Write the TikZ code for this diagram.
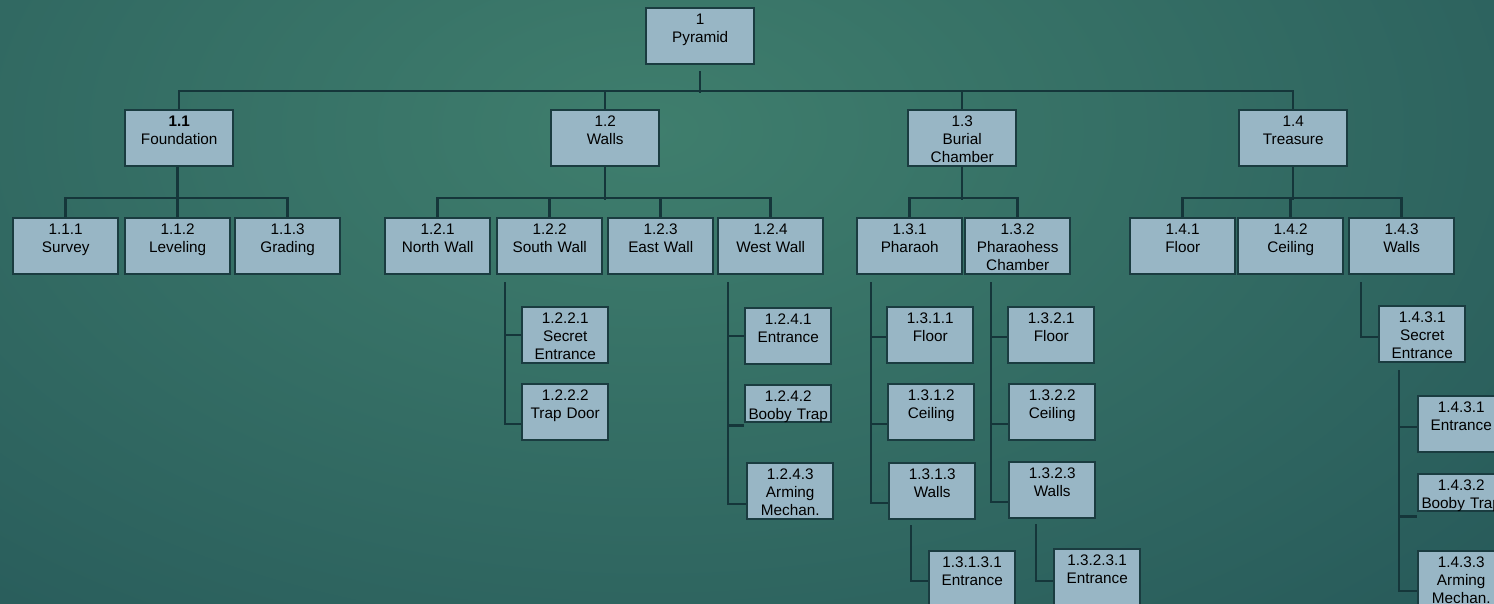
\documentclass[tikz,border=0pt]{standalone}
\usepackage{fontspec}
\setmainfont{Liberation Sans}

\definecolor{bgdark}{HTML}{1C4951}
\definecolor{bglight}{HTML}{3F7E6D}
\definecolor{boxfill}{HTML}{98B6C5}
\definecolor{boxline}{HTML}{1A3C40}
\definecolor{linkcol}{HTML}{15363A}

\tikzset{
  wbs/.style={draw=boxline, fill=boxfill, line width=2.4pt, anchor=north west,
    inner xsep=0pt, inner ysep=2pt, align=center, text=black,
    font=\fontsize{15.3}{18}\selectfont, text height=14.5pt, text depth=37.5pt},
  lvlA/.style={wbs, text width=108pt},
  lvlB/.style={wbs, text width=105pt},
  lvlC/.style={wbs, text width=86pt},
  lowbox/.style={text depth=18.5pt},
  link/.style={draw=linkcol, line width=2.5pt}
}

\begin{document}
\begin{tikzpicture}[x=1pt,y=-1pt]
  % Sfondo
  \useasboundingbox (0,0) rectangle (1494,603);
  \clip (0,0) rectangle (1494,603);
  \fill[bgdark] (0,0) rectangle (1494,603);
  \shade[inner color=bglight, outer color=bgdark] (650,130) ellipse (1700 and 1000);

  % Livello 0 e 1
  \node[lvlA] (pyr) at (645,7) {1\\Pyramid};
  \node[lvlA] (found) at (124,109) {\textbf{1.1}\\Foundation};
  \node[lvlA] (walls) at (550,109) {1.2\\Walls};
  \node[lvlA] (burial) at (907,109) {1.3\\Burial\\Chamber};
  \node[lvlA] (treas) at (1238,109) {1.4\\Treasure};

  % Livello 2
  \node[lvlB] (survey) at (12,217) {1.1.1\\Survey};
  \node[lvlB] (level) at (124,217) {1.1.2\\Leveling};
  \node[lvlB] (grad) at (234,217) {1.1.3\\Grading};
  \node[lvlB] (nwall) at (384,217) {1.2.1\\North Wall};
  \node[lvlB] (swall) at (496,217) {1.2.2\\South Wall};
  \node[lvlB] (ewall) at (607,217) {1.2.3\\East Wall};
  \node[lvlB] (wwall) at (717,217) {1.2.4\\West Wall};
  \node[lvlB] (phar) at (856,217) {1.3.1\\Pharaoh};
  \node[lvlB] (pharess) at (964,217) {1.3.2\\Pharaohess\\Chamber};
  \node[lvlB] (tfloor) at (1129,217) {1.4.1\\Floor};
  \node[lvlB] (tceil) at (1237,217) {1.4.2\\Ceiling};
  \node[lvlB] (twalls) at (1348,217) {1.4.3\\Walls};

  % Livello 3
  \node[lvlC] (ssec) at (521,306) {1.2.2.1\\Secret\\Entrance};
  \node[lvlC] (strap) at (521,383) {1.2.2.2\\Trap Door};
  \node[lvlC] (went) at (744,307) {1.2.4.1\\Entrance};
  \node[lvlC,lowbox] (wboob) at (744,384) {1.2.4.2\\Booby Trap};
  \node[lvlC] (warm) at (746,462) {1.2.4.3\\Arming\\Mechan.};
  \node[lvlC] (pfloor) at (886,306) {1.3.1.1\\Floor};
  \node[lvlC] (pceil) at (887,383) {1.3.1.2\\Ceiling};
  \node[lvlC] (pwalls) at (888,462) {1.3.1.3\\Walls};
  \node[lvlC] (qfloor) at (1007,306) {1.3.2.1\\Floor};
  \node[lvlC] (qceil) at (1008,383) {1.3.2.2\\Ceiling};
  \node[lvlC] (qwalls) at (1008,461) {1.3.2.3\\Walls};
  \node[lvlC] (tsec) at (1378,305) {1.4.3.1\\Secret\\Entrance};

  % Livello 4
  \node[lvlC] (pent) at (928,550) {1.3.1.3.1\\Entrance};
  \node[lvlC] (qent) at (1053,548) {1.3.2.3.1\\Entrance};
  \node[lvlC] (tent) at (1417,395) {1.4.3.1\\Entrance};
  \node[lvlC,lowbox] (tboob) at (1417,473) {1.4.3.2\\Booby Trap};
  \node[lvlC] (tarm) at (1417,550) {1.4.3.3\\Arming\\Mechan.};

  % Collegamenti livello 1
  \draw[link] ([yshift=-6pt]pyr.south) -- ++(0,22);
  \draw[link] (found.north) -- ++(0,-18) -| (treas.north);
  \draw[link] (walls.north) -- ++(0,-18);
  \draw[link] (burial.north) -- ++(0,-18);

  % Collegamenti livello 2
  \draw[link] (survey.north) -- ++(0,-19) -| (grad.north);
  \draw[link] (level.north) -- (level.north |- found.south);
  \draw[link] (nwall.north) -- ++(0,-19) -| (wwall.north);
  \draw[link] (swall.north) -- ++(0,-19) (ewall.north) -- ++(0,-19);
  \draw[link] (walls.south) -- ++(0,33);
  \draw[link] (phar.north) -- ++(0,-19) -| (pharess.north);
  \draw[link] (burial.south) -- ++(0,33);
  \draw[link] (tfloor.north) -- ++(0,-19) -| (twalls.north);
  \draw[link] (tceil.north) -- ++(0,-19);
  \draw[link] (treas.south) -- ++(0,33);

  % Collegamenti laterali
  \coordinate (sdrop) at ([xshift=9pt,yshift=-7pt]swall.south west);
  \draw[link] (sdrop) |- (ssec.west) (sdrop) |- ([yshift=-12pt]strap.west);
  \coordinate (wdrop) at ([xshift=11pt,yshift=-7pt]wwall.south west);
  \draw[link] (wdrop) |- (went.west) (wdrop) |- ([yshift=-2pt]wboob.south west)
              (wdrop) |- ([yshift=-13pt]warm.west);
  \coordinate (pdrop) at ([xshift=15pt,yshift=-7pt]phar.south west);
  \draw[link] (pdrop) |- ([yshift=-2pt]pfloor.west) (pdrop) |- ([yshift=-12pt]pceil.west)
              (pdrop) |- ([yshift=-12pt]pwalls.west);
  \coordinate (qdrop) at ([xshift=27pt,yshift=-7pt]pharess.south west);
  \draw[link] (qdrop) |- ([yshift=-2pt]qfloor.west) (qdrop) |- ([yshift=-12pt]qceil.west)
              (qdrop) |- ([yshift=-12pt]qwalls.west);
  \coordinate (pedrop) at ([xshift=23pt,yshift=-5pt]pwalls.south west);
  \draw[link] (pedrop) |- ([yshift=-2pt]pent.west);
  \coordinate (qedrop) at ([xshift=28pt,yshift=-5pt]qwalls.south west);
  \draw[link] (qedrop) |- ([yshift=-4pt]qent.west);
  \coordinate (tdrop) at ([xshift=13pt,yshift=-7pt]twalls.south west);
  \draw[link] (tdrop) |- ([yshift=-3pt]tsec.west);
  \coordinate (tsdrop) at ([xshift=21pt,yshift=-7pt]tsec.south west);
  \draw[link] (tsdrop) |- ([yshift=-3pt]tent.west) (tsdrop) |- ([yshift=-4pt]tboob.south west)
              (tsdrop) |- ([yshift=-12pt]tarm.west);
\end{tikzpicture}
\end{document}
